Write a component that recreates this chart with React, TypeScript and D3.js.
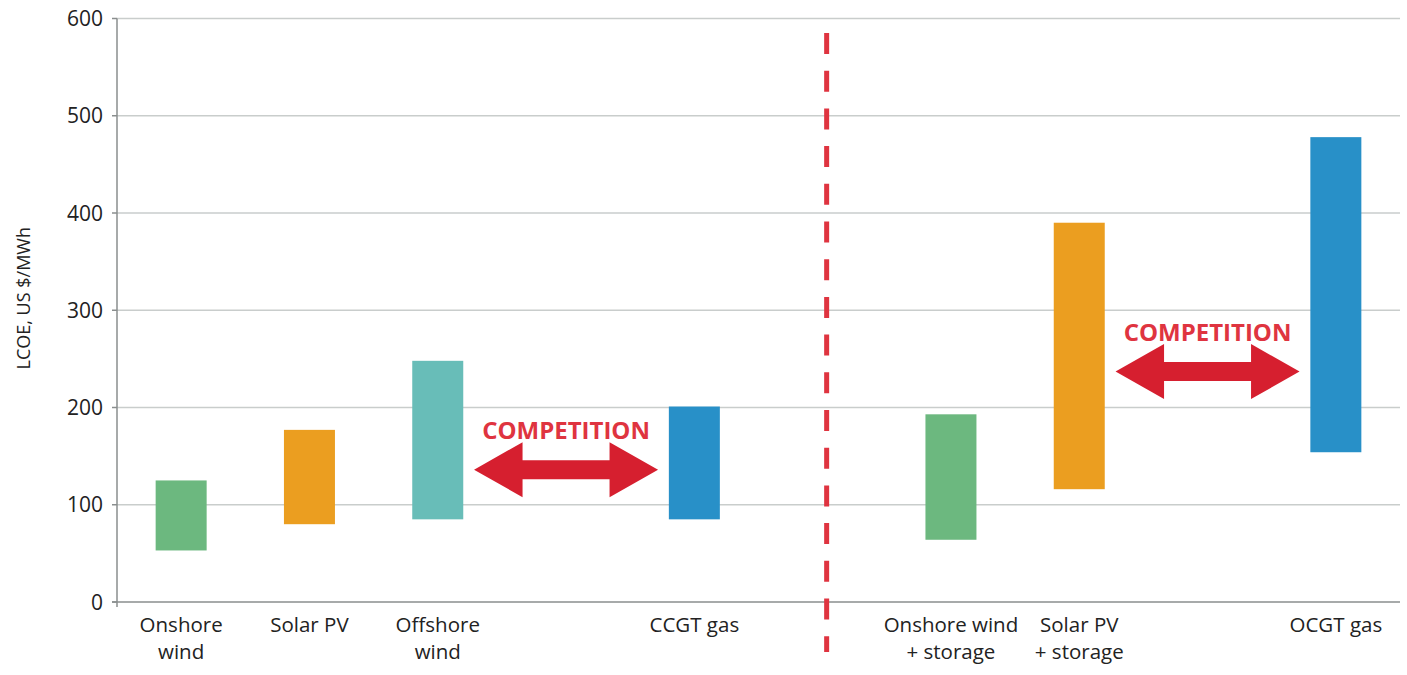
import React from "react";
import * as d3 from "d3";

const categories = [
  "Onshore\nwind",
  "Solar PV",
  "Offshore\nwind",
  "gap1",
  "CCGT gas",
  "divider",
  "Onshore wind\n+ storage",
  "Solar PV\n+ storage",
  "gap2",
  "OCGT gas",
];
const barCategories = ["Onshore\nwind", "Solar PV", "Offshore\nwind", "CCGT gas", "Onshore wind\n+ storage", "Solar PV\n+ storage", "OCGT gas"];
const lowValues = [53, 80, 85, 85, 64, 116, 154];
const highValues = [125, 177, 248, 201, 193, 390, 478];
const barColors = ["#6cb87f", "#eb9e20", "#68bdb8", "#2890c8", "#6cb87f", "#eb9e20", "#2890c8"];
const yTicks = [0, 100, 200, 300, 400, 500, 600];
const competitions = [
  { slot: "gap1", value: 136 },
  { slot: "gap2", value: 237 },
];

const W = 1407;
const H = 675;
const left = 117;
const right = 1400;
const yTop = 18.5;
const yBottom = 602;

export default function App() {
  const xs = d3.scalePoint<string>().domain(categories).range([left, right]).padding(0.5);
  const y = d3.scaleLinear().domain([0, 600]).range([yBottom, yTop]);
  const font = "'Open Sans', 'Noto Sans', sans-serif";
  const bw = 51;

  const arrow = (cx: number, cy: number) => {
    const half = 92;
    const head = 48.5;
    const hh = 27.5;
    const sh = 9.5;
    const pts: [number, number][] = [
      [cx - half, cy],
      [cx - half + head, cy - hh],
      [cx - half + head, cy - sh],
      [cx + half - head, cy - sh],
      [cx + half - head, cy - hh],
      [cx + half, cy],
      [cx + half - head, cy + hh],
      [cx + half - head, cy + sh],
      [cx - half + head, cy + sh],
      [cx - half + head, cy + hh],
    ];
    return "M" + pts.map((p) => p.join(",")).join("L") + "Z";
  };

  return (
    <svg width={W} height={H} style={{ position: "absolute", left: 0, top: 0, background: "#fff" }} fontFamily={font}>
      {yTicks.filter((t) => t > 0).map((t) => (
        <line key={t} x1={left} x2={right} y1={y(t)} y2={y(t)} stroke="#c9cdcc" strokeWidth={1.5} />
      ))}
      {yTicks.map((t) => (
        <g key={"t" + t}>
          <line x1={left - 5} x2={left} y1={y(t)} y2={y(t)} stroke="#8a8e8e" strokeWidth={1.5} />
          <text x={left - 14} y={y(t)} dy="0.36em" textAnchor="end" fontSize={21} fill="#222">
            {t}
          </text>
        </g>
      ))}
      <line x1={left} x2={left} y1={yTop} y2={yBottom + 5} stroke="#8a8e8e" strokeWidth={1.5} />
      <line x1={left - 5} x2={right} y1={yBottom} y2={yBottom} stroke="#8a8e8e" strokeWidth={1.5} />
      <text transform={`translate(30,${(yTop + yBottom) / 2 - 12}) rotate(-90)`} textAnchor="middle" fontSize={18} fill="#222">
        LCOE, US $/MWh
      </text>
      {barCategories.map((c, i) => {
        const cx = xs(c)!;
        return (
          <rect key={c} x={cx - bw / 2} width={bw} y={y(highValues[i])} height={y(lowValues[i]) - y(highValues[i])} fill={barColors[i]} />
        );
      })}
      {barCategories.map((c) => (
        <text key={"l" + c} x={xs(c)!} y={632} textAnchor="middle" fontSize={20.5} fill="#222">
          {c.split("\n").map((line, k) => (
            <tspan key={k} x={xs(c)!} dy={k === 0 ? 0 : 27}>
              {line}
            </tspan>
          ))}
        </text>
      ))}
      <line x1={xs("divider")! + 4} x2={xs("divider")! + 4} y1={33} y2={652} stroke="#df3440" strokeWidth={5} strokeDasharray="21 16.7" />
      {competitions.map((c) => {
        const cx = xs(c.slot)!;
        const cy = y(c.value);
        return (
          <g key={c.slot}>
            <path d={arrow(cx, cy)} fill="#d61f2f" />
            <text x={cx} y={cy - 31} textAnchor="middle" fontSize={24} fontWeight={700} fill="#df3440">
              COMPETITION
            </text>
          </g>
        );
      })}
    </svg>
  );
}
